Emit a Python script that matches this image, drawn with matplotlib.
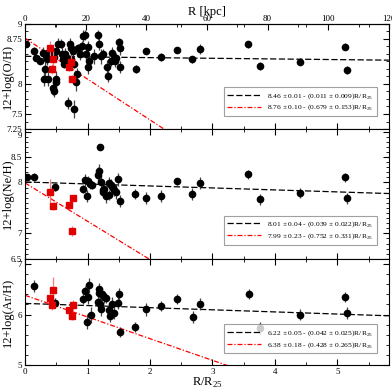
import matplotlib
matplotlib.use("Agg")
import matplotlib.pyplot as plt
from matplotlib.ticker import FixedLocator, MultipleLocator

plt.rcParams.update({
    "font.family": "Liberation Serif",
    "mathtext.fontset": "custom",
    "mathtext.rm": "Liberation Serif",
    "font.size": 7,
    "xtick.direction": "in",
    "ytick.direction": "in",
    "xtick.top": True,
    "ytick.right": True,
})

R25_KPC = 20.6

# ── O/H ────────────────────────────────────────────────
oh_r = [0.02, 0.15, 0.18, 0.24, 0.29, 0.30, 0.32, 0.33, 0.35, 0.37, 0.39, 0.45,
        0.46, 0.49, 0.50, 0.47, 0.50, 0.53, 0.57, 0.59, 0.60, 0.63, 0.64, 0.67,
        0.69, 0.72, 0.74, 0.74, 0.77, 0.78, 0.79, 0.81, 0.83, 0.85, 0.88, 0.91,
        0.93, 0.96, 0.98, 1.00, 1.03, 1.00, 1.10, 1.17, 1.18, 1.22, 1.24, 1.31,
        1.33, 1.37, 1.39, 1.42, 1.44, 1.46, 1.50, 1.52, 1.52, 1.77, 1.93, 2.18,
        2.44, 2.68, 2.80, 3.57, 3.76, 4.41, 5.13, 5.15]
oh_v = [8.67, 8.55, 8.44, 8.39, 8.51, 8.09, 8.25, 8.48, 8.41, 8.09, 8.53, 7.94,
        7.88, 8.03, 8.09, 8.45, 8.54, 8.67, 8.67, 8.50, 8.41, 8.34, 8.50, 8.44,
        7.69, 8.66, 8.59, 8.41, 8.55, 7.58, 8.34, 8.03, 8.17, 8.59, 8.50, 8.63,
        8.79, 8.81, 8.50, 8.28, 8.38, 8.61, 8.46, 8.81, 8.67, 8.46, 8.50, 8.28,
        8.14, 8.38, 8.51, 8.42, 8.38, 8.44, 8.69, 8.59, 8.28, 8.25, 8.55, 8.45,
        8.56, 8.41, 8.58, 8.66, 8.30, 8.37, 8.62, 8.23]
oh_e = [0.05, 0.07, 0.06, 0.06, 0.10, 0.12, 0.12, 0.08, 0.10, 0.12, 0.10, 0.12,
        0.10, 0.10, 0.12, 0.08, 0.12, 0.10, 0.08, 0.12, 0.10, 0.08, 0.10, 0.08,
        0.10, 0.10, 0.12, 0.10, 0.10, 0.15, 0.08, 0.15, 0.10, 0.08, 0.10, 0.08,
        0.10, 0.08, 0.10, 0.12, 0.10, 0.10, 0.12, 0.08, 0.10, 0.12, 0.08, 0.12,
        0.10, 0.08, 0.10, 0.08, 0.10, 0.08, 0.08, 0.10, 0.10, 0.06, 0.05, 0.06,
        0.05, 0.06, 0.08, 0.06, 0.07, 0.06, 0.06, 0.07]
oh_red_r = [0.40, 0.43, 0.45, 0.71, 0.73, 0.75]
oh_red_v = [8.59, 8.25, 8.41, 8.29, 8.36, 8.09]
oh_red_e = [0.12, 0.08, 0.15, 0.08, 0.12, 0.06]

# ── Ne/H ───────────────────────────────────────────────
ne_r = [0.03, 0.15, 0.48, 0.92, 0.96, 0.99, 1.01, 1.04, 1.07, 1.16, 1.19, 1.20,
        1.21, 1.24, 1.25, 1.27, 1.30, 1.34, 1.35, 1.37, 1.40, 1.43, 1.46, 1.49,
        1.52, 1.76, 1.93, 2.18, 2.44, 2.68, 2.80, 3.57, 3.76, 4.41, 5.13, 5.15]
ne_v = [8.10, 8.10, 7.91, 7.87, 8.05, 7.74, 8.03, 7.97, 7.95, 8.15, 8.22, 8.69,
        8.00, 7.85, 7.82, 7.88, 7.74, 7.75, 7.99, 7.96, 7.90, 7.86, 7.82, 8.06,
        7.64, 7.78, 7.69, 7.74, 8.02, 7.78, 7.99, 8.16, 7.67, 7.79, 8.10, 7.69]
ne_e = [0.05, 0.08, 0.08, 0.08, 0.12, 0.12, 0.10, 0.10, 0.08, 0.15, 0.15, 0.06,
        0.12, 0.12, 0.10, 0.15, 0.15, 0.10, 0.12, 0.10, 0.10, 0.12, 0.15, 0.12,
        0.12, 0.10, 0.12, 0.12, 0.07, 0.12, 0.12, 0.09, 0.11, 0.10, 0.09, 0.11]
ne_red_r = [0.40, 0.44, 0.71, 0.76, 0.75]
ne_red_v = [7.82, 7.54, 7.56, 7.69, 7.04]
ne_red_e = [0.25, 0.08, 0.05, 0.06, 0.10]

# ── Ar/H ───────────────────────────────────────────────
ar_r = [0.15, 0.48, 0.92, 0.96, 0.99, 1.01, 1.02, 1.05, 1.16, 1.18, 1.19, 1.20,
        1.21, 1.23, 1.26, 1.29, 1.35, 1.36, 1.39, 1.42, 1.48, 1.50, 1.52, 1.76,
        1.93, 2.18, 2.44, 2.69, 2.80, 3.58, 3.76, 4.41, 5.13, 5.15]
ar_v = [6.57, 6.23, 6.31, 6.47, 5.86, 6.35, 6.58, 5.99, 6.25, 6.51, 6.42, 6.20,
        6.10, 6.40, 6.35, 6.32, 6.08, 5.98, 6.20, 6.03, 6.23, 6.41, 5.66, 5.76,
        6.10, 6.17, 6.31, 5.95, 6.21, 6.41, 5.73, 6.00, 6.35, 6.03]
ar_e = [0.12, 0.10, 0.10, 0.10, 0.15, 0.15, 0.15, 0.15, 0.12, 0.12, 0.10, 0.15,
        0.12, 0.12, 0.12, 0.10, 0.12, 0.12, 0.15, 0.12, 0.12, 0.12, 0.10, 0.10,
        0.12, 0.10, 0.10, 0.12, 0.12, 0.10, 0.12, 0.10, 0.10, 0.12]
ar_red_r = [0.40, 0.43, 0.45, 0.71, 0.75, 0.76]
ar_red_v = [6.33, 6.18, 6.49, 6.08, 5.98, 6.19]
ar_red_e = [0.10, 0.10, 0.25, 0.05, 0.08, 0.10]

# ── Fits: (intercept, err, slope, err) ─────────────────
fits = [
    ((8.46, 0.01, 0.011, 0.009), (8.76, 0.10, 0.679, 0.153)),
    ((8.01, 0.04, 0.039, 0.022), (7.99, 0.23, 0.752, 0.331)),
    ((6.22, 0.05, 0.042, 0.025), (6.38, 0.18, 0.428, 0.265)),
]

panels = [
    ("12+log(O/H)", oh_r, oh_v, oh_e, oh_red_r, oh_red_v, oh_red_e,
     (7.25, 9.0), [7.25, 7.5, 8, 8.75, 9], ["7.25", "7.5", "8", "8.75", "9"], 0.125),
    ("12+log(Ne/H)", ne_r, ne_v, ne_e, ne_red_r, ne_red_v, ne_red_e,
     (6.5, 9.05), [6.5, 7, 8, 8.5, 9], ["6.5", "7", "8", "8.5", "9"], 0.1),
    ("12+log(Ar/H)", ar_r, ar_v, ar_e, ar_red_r, ar_red_v, ar_red_e,
     (5.0, 7.1), [5, 6, 7], ["5", "6", "7"], 0.2),
]

# axes rectangles in figure fractions
rects = [
    [0.064, 0.670, 0.928, 0.269],
    [0.064, 0.338, 0.928, 0.332],
    [0.064, 0.066, 0.928, 0.272],
]
leg_anchor = [(0.978, 0.086), (0.978, 0.077), (0.978, 0.075)]

fig = plt.figure(figsize=(3.92, 3.91), dpi=100)
xmax = 120 / R25_KPC

for i, (lab, r, v, e, rr, rv, re_, ylim, yt, ytl, ymin) in enumerate(panels):
    ax = fig.add_axes(rects[i])
    ax.errorbar(r, v, yerr=e, fmt="o", color="black", ecolor="#444444",
                ms=4.5, elinewidth=0.9, capsize=0, zorder=3)
    ax.errorbar(rr, rv, yerr=re_, fmt="s", color="#e00000", ecolor="#f08080",
                ms=4.5, elinewidth=0.9, capsize=0, zorder=4)

    (a, ae, b, be), (c, ce, d, de) = fits[i]
    xs = [0, xmax]
    ax.plot(xs, [a - b * x for x in xs], ls=(0, (5, 2)), color="black", lw=0.9,
            label=rf"{a:.2f} $\pm$ {ae:.2f} - ({b:.3f} $\pm$ {be:.3f})R/R$_{{25}}$")
    ax.plot(xs, [c - d * x for x in xs], ls=(0, (4, 1.5, 1, 1.5)), color="red", lw=0.9,
            label=rf"{c:.2f} $\pm$ {ce:.2f} - ({d:.3f} $\pm$ {de:.3f})R/R$_{{25}}$")

    ax.set_xlim(0, xmax)
    ax.set_ylim(*ylim)
    ax.yaxis.set_major_locator(FixedLocator(yt))
    ax.set_yticklabels(ytl)
    ax.yaxis.set_minor_locator(MultipleLocator(ymin))
    ax.xaxis.set_major_locator(MultipleLocator(1))
    ax.xaxis.set_minor_locator(MultipleLocator(0.5))
    ax.tick_params(which="both", direction="in", top=True, right=True,
                   labelsize=6.5, pad=2)
    ax.tick_params(which="major", length=4)
    ax.tick_params(which="minor", length=2)
    ax.set_ylabel(lab, fontsize=9)
    ax.yaxis.set_label_coords(-0.03, 0.5)
    if i == 1:
        # nudge the top "9" below the shared boundary
        ax.get_yticklabels()[-1].set_verticalalignment("top")
    if i < 2:
        ax.tick_params(labelbottom=False)
    else:
        ax.set_xlabel(r"R/R$_{25}$", fontsize=9, labelpad=0)

    leg = ax.legend(loc="lower right", bbox_to_anchor=leg_anchor[i], fontsize=5.4,
                    frameon=True, fancybox=False, edgecolor="#888888",
                    handlelength=4.5, borderpad=0.5, labelspacing=0.3)
    leg.get_frame().set_linewidth(0.8)

    if i == 0:
        top = ax.secondary_xaxis("top", functions=(lambda x: x * R25_KPC,
                                                   lambda k: k / R25_KPC))
        top.xaxis.set_major_locator(MultipleLocator(20))
        top.xaxis.set_minor_locator(MultipleLocator(10))
        top.tick_params(which="both", direction="in", labelsize=6.5, pad=0.5)
        top.tick_params(which="major", length=4)
        top.tick_params(which="minor", length=2)
        top.set_xlabel("R [kpc]", fontsize=9, labelpad=0)
        ax.tick_params(top=False)

fig.savefig("out.png", dpi=100)
plt.close(fig)
